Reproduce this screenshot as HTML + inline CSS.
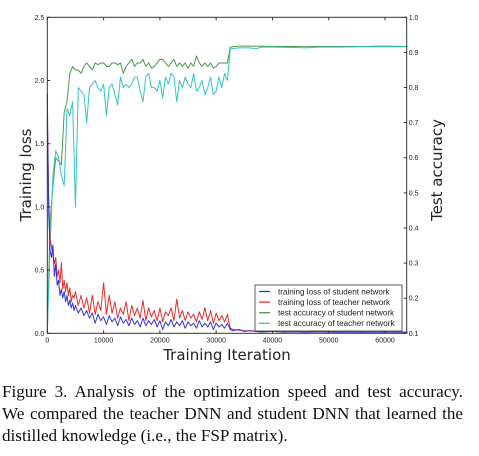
<!DOCTYPE html>
<html><head><meta charset="utf-8">
<style>
html,body{margin:0;padding:0;background:#fff;width:479px;height:456px;overflow:hidden}
#chart{position:absolute;left:0;top:0}
#caption{position:absolute;left:2px;top:381px;width:461px;font-family:"Liberation Serif",serif;font-size:17.1px;line-height:22px;color:#111}
#caption div{white-space:nowrap}
#caption .j{text-align:justify;text-align-last:justify}
</style></head>
<body>
<svg id="chart" width="479" height="370" xmlns="http://www.w3.org/2000/svg"></svg>
<div id="caption">
<div class="j">Figure 3. Analysis of the optimization speed and test accuracy.</div>
<div class="j">We compared the teacher DNN and student DNN that learned the</div>
<div>distilled knowledge (i.e., the FSP matrix).</div>
</div>
<script>
const xTicks=[0,10000,20000,30000,40000,50000,60000];
const lossTicks=[0.0,0.5,1.0,1.5,2.0,2.5];
const accTicks=[0.1,0.2,0.3,0.4,0.5,0.6,0.7,0.8,0.9,1.0];
const accIters=[0,500,1000,1500,2000,2500,3000,3500,4000,4500,5000,5500,6000,6500,7000,7500,8000,8500,9000,9500,10000,10500,11000,11500,12000,12500,13000,13500,14000,14500,15000,15500,16000,16500,17000,17500,18000,18500,19000,19500,20000,20500,21000,21500,22000,22500,23000,23500,24000,24500,25000,25500,26000,26500,27000,27500,28000,28500,29000,29500,30000,30500,31000,31500,32000,32500,34000,36000,37000,38000,40000,44000,46000,48000,52000,56000,60000,64000];
const studentAcc=[0.1,0.42,0.52,0.6,0.59,0.58,0.73,0.76,0.84,0.86,0.85,0.85,0.84,0.86,0.87,0.86,0.85,0.87,0.865,0.87,0.87,0.86,0.86,0.87,0.87,0.865,0.87,0.84,0.86,0.87,0.88,0.86,0.87,0.87,0.88,0.86,0.87,0.855,0.86,0.87,0.88,0.88,0.87,0.86,0.87,0.88,0.86,0.87,0.86,0.87,0.855,0.87,0.86,0.89,0.87,0.86,0.87,0.86,0.87,0.855,0.86,0.87,0.87,0.87,0.87,0.915,0.918,0.918,0.918,0.918,0.917,0.917,0.916,0.917,0.917,0.917,0.918,0.917];
const teacherAcc=[0.1,0.35,0.55,0.62,0.6,0.55,0.52,0.74,0.72,0.76,0.46,0.8,0.79,0.78,0.7,0.8,0.81,0.82,0.8,0.79,0.81,0.72,0.8,0.81,0.78,0.75,0.83,0.8,0.81,0.8,0.81,0.83,0.83,0.79,0.76,0.83,0.84,0.8,0.8,0.79,0.82,0.77,0.83,0.81,0.84,0.83,0.76,0.82,0.8,0.83,0.81,0.8,0.84,0.79,0.8,0.82,0.78,0.8,0.83,0.78,0.79,0.83,0.8,0.84,0.82,0.91,0.913,0.913,0.91,0.915,0.915,0.914,0.913,0.915,0.915,0.916,0.916,0.916];
const lossIters=[0,250,500,750,1000,1250,1500,1750,2000,2250,2500,2750,3000,3250,3500,3750,4000,4250,4500,4750,5000,5500,6000,6500,7000,7500,8000,8500,9000,9500,10000,10500,11000,11500,12000,12500,13000,13500,14000,14500,15000,15500,16000,16500,17000,17500,18000,18500,19000,19500,20000,20500,21000,21500,22000,22500,23000,23500,24000,24500,25000,25500,26000,26500,27000,27500,28000,28500,29000,29500,30000,30500,31000,31500,32000,32500,33000,34000,35000,36000,38000,40000,42000,44000,46000,48000,50000,52000,54000,56000,58000,60000,62000,64000];
const studentLoss=[1.9,0.95,0.65,0.6,0.7,0.45,0.55,0.38,0.42,0.3,0.35,0.28,0.33,0.25,0.3,0.22,0.26,0.2,0.24,0.18,0.22,0.16,0.2,0.14,0.18,0.12,0.16,0.08,0.15,0.1,0.13,0.07,0.14,0.09,0.12,0.06,0.13,0.08,0.11,0.06,0.12,0.07,0.1,0.05,0.12,0.06,0.1,0.07,0.11,0.05,0.1,0.03,0.09,0.06,0.11,0.05,0.09,0.06,0.1,0.04,0.09,0.06,0.08,0.04,0.1,0.05,0.08,0.05,0.09,0.03,0.08,0.05,0.07,0.04,0.08,0.03,0.02,0.03,0.015,0.02,0.01,0.015,0.01,0.012,0.008,0.012,0.01,0.008,0.01,0.007,0.01,0.008,0.01,0.005];
const teacherLoss=[1.7,1.05,0.75,0.68,0.62,0.55,0.6,0.45,0.5,0.4,0.56,0.35,0.42,0.33,0.4,0.3,0.36,0.25,0.3,0.28,0.33,0.22,0.3,0.2,0.28,0.16,0.3,0.15,0.25,0.18,0.4,0.15,0.3,0.16,0.25,0.12,0.2,0.15,0.25,0.1,0.22,0.14,0.2,0.12,0.26,0.1,0.2,0.13,0.18,0.1,0.2,0.09,0.17,0.14,0.2,0.1,0.27,0.12,0.18,0.1,0.17,0.12,0.15,0.09,0.17,0.11,0.2,0.1,0.18,0.08,0.16,0.1,0.14,0.09,0.15,0.04,0.03,0.025,0.02,0.02,0.015,0.02,0.015,0.015,0.012,0.015,0.012,0.015,0.01,0.012,0.01,0.012,0.01,0.01];

const svg=document.getElementById('chart');
const NS='http://www.w3.org/2000/svg';
const L=47.3,R=406.7,T=17.3,B=333.3;
const xMax=63850;
const xs=v=>L+(R-L)*v/xMax;
const yl=v=>B-(B-T)*v/2.5;
const yr=v=>B-(B-T)*(v-0.1)/0.9;
function mk(tag,attrs){const e=document.createElementNS(NS,tag);for(const k in attrs)e.setAttribute(k,attrs[k]);svg.appendChild(e);return e;}
function txt(x,y,s,size,anchor,extra){const e=mk('text',Object.assign({x:x,y:y,'font-size':size,'text-anchor':anchor,'font-family':'Liberation Sans, DejaVu Sans, sans-serif',fill:'#222'},extra||{}));e.textContent=s;return e;}

function line(iters,vals,ys,color,name){
  const p=iters.map((t,i)=>xs(t).toFixed(2)+','+ys(vals[i]).toFixed(2)).join(' ');
  const e=mk('polyline',{points:p,fill:'none',stroke:color,'stroke-width':1,'stroke-linejoin':'round'});
  
  
}
line(accIters,studentAcc,yr,'#4a9a4a','student-accuracy-line');
line(accIters,teacherAcc,yr,'#33c4c4','teacher-accuracy-line');
line(lossIters,teacherLoss,yl,'#ee2a2a','teacher-loss-line');
line(lossIters,studentLoss,yl,'#3333dd','student-loss-line');

const frame=mk('rect',{x:L,y:T,width:R-L,height:B-T,fill:'none',stroke:'#333','stroke-width':1});



xTicks.forEach(t=>{const x=xs(t);mk('line',{x1:x,y1:B,x2:x,y2:B-3,stroke:'#333'});mk('line',{x1:x,y1:T,x2:x,y2:T+3,stroke:'#333'});
 const e=txt(x,B+9,String(t),7,'middle');});
lossTicks.forEach(t=>{const y=yl(t);mk('line',{x1:L,y1:y,x2:L+3,y2:y,stroke:'#333'});
 const e=txt(L-3,y+2.5,t.toFixed(1),7,'end');});
accTicks.forEach(t=>{const y=yr(t);mk('line',{x1:R,y1:y,x2:R-3,y2:y,stroke:'#333'});
 const e=txt(R+2,y+2.5,t.toFixed(1),7,'start');});

let e=txt((L+R)/2,360,'Training Iteration',15,'middle',{'font-family':'DejaVu Sans, sans-serif'});

e=txt(31,175,'Training loss',15,'middle',{transform:'rotate(-90 31 175)','font-family':'DejaVu Sans, sans-serif'});

e=txt(442,170,'Test accuracy',15,'middle',{transform:'rotate(-90 442 170)','font-family':'DejaVu Sans, sans-serif'});


const lg=mk('rect',{x:255,y:285,width:147,height:46,fill:'#fff',stroke:'#333','stroke-width':0.8});

const legendLabels=['training loss of student network','training loss of teacher network','test accuracy of student network','test accuracy of teacher network'];
const legendColors=['#3333dd','#ee2a2a','#4a9a4a','#33c4c4'];
legendLabels.forEach((s,i)=>{const y=291.5+i*10.6;
 const ln=mk('line',{x1:259,y1:y,x2:270,y2:y,stroke:legendColors[i],'stroke-width':1.3});
 
 const t=txt(278,y+2.8,s,8.1,'start');});
</script>
</body></html>
